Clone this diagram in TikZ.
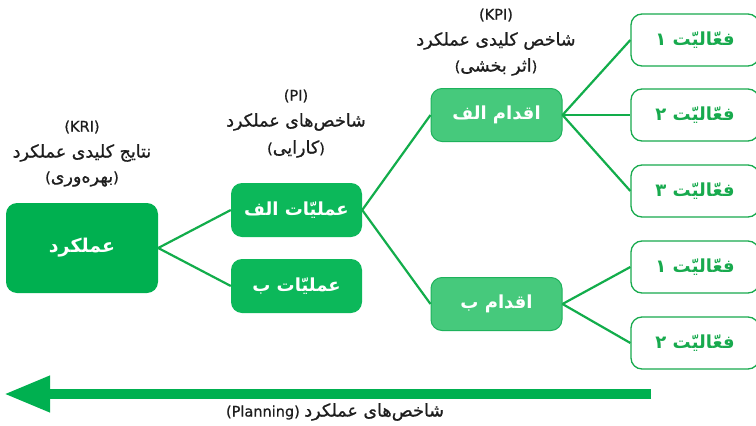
\documentclass[tikz,border=0pt]{standalone}
\usepackage{fontspec}
\setmainfont{DejaVu Sans}
\newfontfamily\fa[Script=Arabic]{DejaVu Sans}
\newfontfamily\falab[Script=Arabic,FakeBold=0.8]{DejaVu Sans}
\newfontfamily\lalab[FakeBold=0.8]{DejaVu Sans}
\TeXXeTstate=1
\usetikzlibrary{arrows.meta}
\definecolor{gdark}{RGB}{0,176,80}
\definecolor{gop}{RGB}{12,184,90}
\definecolor{gact}{RGB}{70,201,124}
\definecolor{gactb}{RGB}{30,178,92}
\definecolor{gtask}{RGB}{24,170,78}
\definecolor{gline}{RGB}{18,173,75}
\definecolor{labtext}{RGB}{30,30,30}
\newcommand{\rtl}[1]{\hbox{\fa\beginR #1\endR}}
\newcommand{\rtllab}[1]{\hbox{\falab\fontsize{17.5}{20}\selectfont\beginR #1\endR}}
\tikzset{
  boxbase/.style={rounded corners=11pt, inner sep=0pt, align=center},
  mainbox/.style={boxbase, fill=gdark, text=white, minimum width=152pt, minimum height=90pt, font=\fa\bfseries\fontsize{19}{22}\selectfont},
  opbox/.style={boxbase, fill=gop, text=white, minimum width=131pt, minimum height=54pt, font=\fa\bfseries\fontsize{18}{22}\selectfont},
  actbox/.style={boxbase, fill=gact, draw=gactb, line width=1pt, text=white, minimum width=131pt, minimum height=53pt, font=\fa\bfseries\fontsize{18}{22}\selectfont},
  taskbox/.style={boxbase, fill=white, draw=gtask, line width=1.3pt, text=gtask, minimum width=128pt, minimum height=52pt, font=\fa\bfseries\fontsize{18}{22}\selectfont},
  conn/.style={draw=gline, line width=2.2pt},
  lab/.style={text=labtext, inner sep=0pt, font=\lalab\fontsize{14.5}{17}\selectfont},
}
\begin{document}
\begin{tikzpicture}[x=1pt,y=-1pt]
\clip (0,0) rectangle (756,426);
\fill[white] (0,0) rectangle (756,426);

% labels
\node[lab] (kri1) at (82,127) {(KRI)};
\node[lab] (kri2) at (82,153) {\rtllab{نتایج کلیدی عملکرد}};
\node[lab] (kri3) at (82,179) {(\rtllab{بهره‌وری})};
\node[lab] (pi1) at (296,96) {(PI)};
\node[lab] (pi2) at (296,122) {\rtllab{شاخص‌های عملکرد}};
\node[lab] (pi3) at (296,149) {(\rtllab{کارایی})};
\node[lab] (kpi1) at (496,15) {(KPI)};
\node[lab] (kpi2) at (496,41) {\rtllab{شاخص کلیدی عملکرد}};
\node[lab] (kpi3) at (496,67) {(\rtllab{اثر بخشی})};

% boxes
\node[mainbox] (perf) at (82,248) {\rtl{عملکرد}};
\node[opbox] (opA) at (296.5,210) {\rtl{عملیّات الف}};
\node[opbox] (opB) at (296.5,286) {\rtl{عملیّات ب}};
\node[actbox] (acA) at (496.5,115) {\rtl{اقدام الف}};
\node[actbox] (acB) at (496.5,304) {\rtl{اقدام ب}};
\node[taskbox] (t1) at (695,40) {\rtl{فعّالیّت ۱}};
\node[taskbox] (t2) at (695,115) {\rtl{فعّالیّت ۲}};
\node[taskbox] (t3) at (695,191) {\rtl{فعّالیّت ۳}};
\node[taskbox] (t4) at (695,267) {\rtl{فعّالیّت ۱}};
\node[taskbox] (t5) at (695,343) {\rtl{فعّالیّت ۲}};

% connectors
\draw[conn] (perf.east) -- (opA.west);
\draw[conn] (perf.east) -- (opB.west);
\draw[conn] (opA.east) -- (acA.west);
\draw[conn] (opA.east) -- (acB.west);
\draw[conn] (acA.east) -- (t1.west);
\draw[conn] (acA.east) -- (t2.west);
\draw[conn] (acA.east) -- (t3.west);
\draw[conn] (acB.east) -- (t4.west);
\draw[conn] (acB.east) -- (t5.west);

% planning arrow
\coordinate (arrS) at (651,394);
\coordinate (arrE) at (4,394);
\draw[draw=gdark, line width=10pt, -{Triangle[length=46pt,width=34pt]}, fill=gdark] (arrS) -- (arrE);
\node[lab] (plan) at (335,412) {(Planning) \rtllab{شاخص‌های عملکرد}};
\end{tikzpicture}
\end{document}
